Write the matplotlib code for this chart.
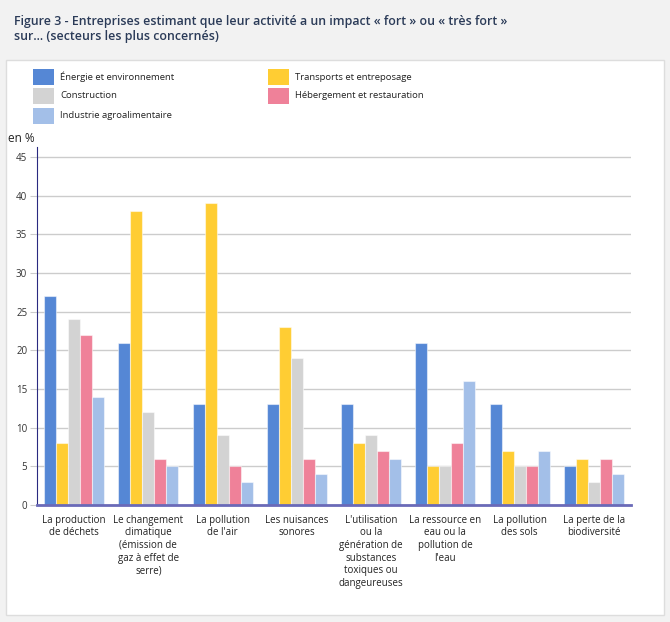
import matplotlib
matplotlib.use("Agg")
import matplotlib.pyplot as plt
import numpy as np
from matplotlib.patches import Rectangle

plt.rcParams["font.family"] = ["Open Sans", "DejaVu Sans"]

categories = [
    "La production\nde déchets",
    "Le changement\nclimatique\n(émission de\ngaz à effet de\nserre)",
    "La pollution\nde l'air",
    "Les nuisances\nsonores",
    "L'utilisation\nou la\ngénération de\nsubstances\ntoxiques ou\ndangeureuses",
    "La ressource en\neau ou la\npollution de\nl'eau",
    "La pollution\ndes sols",
    "La perte de la\nbiodiversité",
]
series_names = [
    "Énergie et environnement",
    "Transports et entreposage",
    "Construction",
    "Hébergement et restauration",
    "Industrie agroalimentaire",
]
energie = [27, 21, 13, 13, 13, 21, 13, 5]
transports = [8, 38, 39, 23, 8, 5, 7, 6]
construction = [24, 12, 9, 19, 9, 5, 5, 3]
hebergement = [22, 6, 5, 6, 7, 8, 5, 6]
industrie = [14, 5, 3, 4, 6, 16, 7, 4]
series_values = [energie, transports, construction, hebergement, industrie]
colors = ["#5587d5", "#ffcd33", "#d3d3d3", "#ef8199", "#a3bfe8"]
yticks = [0, 5, 10, 15, 20, 25, 30, 35, 40, 45]

W, H = 670, 622
fig = plt.figure(figsize=(W / 100, H / 100), dpi=100)
fig.patch.set_facecolor("#f2f2f2")

# white panel behind the chart
bg = fig.add_axes([0, 0, 1, 1], zorder=-10)
bg.set_axis_off()
bg.set_xlim(0, W)
bg.set_ylim(H, 0)
bg.add_patch(Rectangle((6, 60), 658, 555, facecolor="white",
                       edgecolor="#dddddd", linewidth=1))

fig.text(14 / W, 1 - 29 / H,
         "Figure 3 - Entreprises estimant que leur activité a un impact « fort » ou « très fort »\nsur... (secteurs les plus concernés)",
         fontsize=8.9, fontweight="semibold", color="#2b3b58", va="center",
         ha="left", linespacing=1.2)

ax = fig.add_axes([37 / W, 1 - 505 / H, 594 / W, 358 / H])
ax.set_facecolor("none")

x = np.arange(len(categories))
width = 0.162
for i, (vals, col, name) in enumerate(zip(series_values, colors, series_names)):
    ax.bar(x + (i - 2) * width, vals, width, color=col, edgecolor=(1, 1, 1, 0.5),
           linewidth=0.8, label=name, zorder=3)

ax.set_xlim(-0.5, len(categories) - 0.5)
ax.set_ylim(0, 46.3)
ax.set_yticks(yticks)
ax.set_yticklabels([str(v) for v in yticks], fontsize=7, color="#333333")
ax.yaxis.grid(True, color="#cccccc", linewidth=1, zorder=0)
ax.tick_params(axis="y", length=5, color="#cccccc", pad=2)
ax.set_xticks(x)
ax.set_xticklabels(categories, fontsize=7, color="#222222", linespacing=1.2, va="top")
ax.tick_params(axis="x", length=0, pad=7)

for s in ["top", "right"]:
    ax.spines[s].set_visible(False)
ax.spines["left"].set_color("#2a2a80")
ax.spines["bottom"].set_color("#6a6ab8")
ax.spines["bottom"].set_linewidth(2)
ax.spines["bottom"].set_zorder(4)

fig.text(8 / W, 1 - 139 / H, "en %", fontsize=8.5, color="#222222", va="center")

# legend, two columns
leg_pos = [(33, 77), (268, 77), (33, 96), (268, 96), (33, 116)]
for (lx, ly), name, col in zip(leg_pos, series_names, colors):
    bg.add_patch(Rectangle((lx, ly - 8), 21, 16, facecolor=col, edgecolor="none"))
    bg.text(lx + 27, ly, name, fontsize=6.8, color="#222222", va="center", ha="left")

fig.savefig("out.png", dpi=100, facecolor=fig.get_facecolor())
